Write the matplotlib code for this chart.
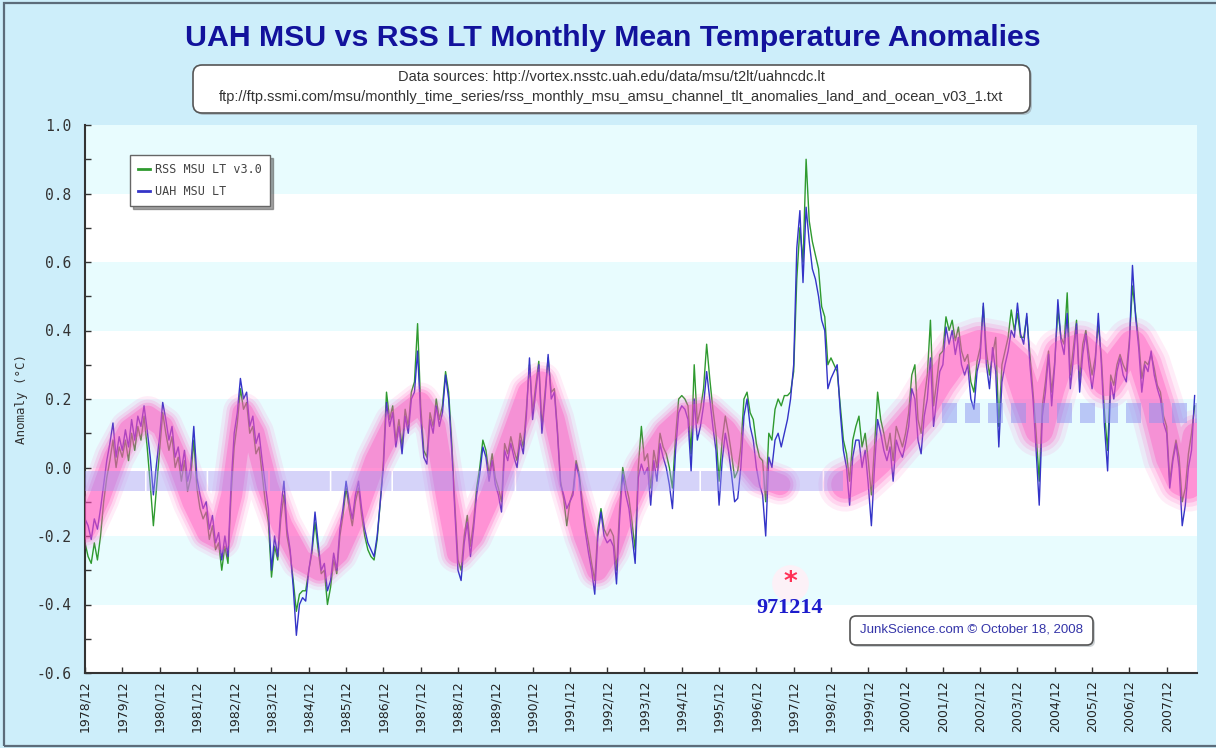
import numpy as np
import matplotlib
matplotlib.use("Agg")
import matplotlib.pyplot as plt
from matplotlib.patches import FancyBboxPatch, Rectangle

plt.rcParams["axes.unicode_minus"] = False

# monthly anomalies (deg C), 1978/12 .. 2008/09
uah = [
    -0.15,                                                                          # 1978 Dec
    -0.17, -0.21, -0.15, -0.18, -0.12, -0.05, 0.02, 0.07, 0.13, 0.03, 0.09, 0.05,   # 1979
    0.11, 0.06, 0.14, 0.08, 0.15, 0.12, 0.18, 0.11, 0.03, -0.08, 0.01, 0.09,        # 1980
    0.19, 0.14, 0.08, 0.12, 0.03, 0.06, -0.01, 0.05, -0.04, 0.00, 0.12, -0.03,      # 1981
    -0.08, -0.12, -0.10, -0.18, -0.14, -0.22, -0.19, -0.27, -0.20, -0.26, -0.05, 0.10,  # 1982
    0.16, 0.26, 0.20, 0.22, 0.12, 0.15, 0.07, 0.10, 0.02, -0.05, -0.12, -0.30,      # 1983
    -0.20, -0.26, -0.12, -0.04, -0.18, -0.24, -0.35, -0.49, -0.40, -0.38, -0.39, -0.30,  # 1984
    -0.24, -0.13, -0.22, -0.30, -0.28, -0.36, -0.33, -0.25, -0.30, -0.18, -0.12, -0.04,  # 1985
    -0.10, -0.15, -0.08, -0.04, -0.12, -0.18, -0.22, -0.24, -0.26, -0.20, -0.10, 0.00,   # 1986
    0.19, 0.12, 0.16, 0.06, 0.12, 0.04, 0.15, 0.10, 0.20, 0.22, 0.34, 0.15,         # 1987
    0.03, 0.01, 0.14, 0.10, 0.18, 0.12, 0.16, 0.27, 0.20, 0.05, -0.13, -0.30,       # 1988
    -0.33, -0.22, -0.16, -0.26, -0.18, -0.08, -0.02, 0.06, 0.03, -0.04, 0.02, -0.05,  # 1989
    -0.08, -0.13, 0.05, 0.02, 0.07, 0.03, 0.00, 0.08, 0.04, 0.15, 0.32, 0.14,       # 1990
    0.22, 0.30, 0.10, 0.20, 0.33, 0.20, 0.22, 0.10, -0.05, -0.08, -0.12, -0.10,     # 1991
    -0.08, 0.01, -0.03, -0.12, -0.19, -0.25, -0.30, -0.37, -0.20, -0.13, -0.20, -0.22,  # 1992
    -0.21, -0.23, -0.34, -0.15, -0.02, -0.08, -0.12, -0.20, -0.28, -0.03, 0.01, -0.02,  # 1993
    0.00, -0.11, 0.02, -0.04, 0.07, 0.03, 0.00, -0.05, -0.12, 0.05, 0.16, 0.18,     # 1994
    0.17, 0.14, -0.01, 0.20, 0.08, 0.12, 0.18, 0.28, 0.20, 0.12, 0.05, -0.11,       # 1995
    0.02, 0.10, 0.05, -0.02, -0.10, -0.09, 0.00, 0.15, 0.20, 0.12, 0.08, 0.00,      # 1996
    -0.05, -0.08, -0.20, 0.03, 0.00, 0.08, 0.10, 0.06, 0.10, 0.14, 0.20, 0.30,      # 1997
    0.64, 0.75, 0.54, 0.76, 0.66, 0.58, 0.55, 0.50, 0.43, 0.40, 0.23, 0.26,         # 1998
    0.28, 0.30, 0.16, 0.05, 0.00, -0.11, 0.03, 0.08, 0.08, 0.00, 0.05, -0.05,       # 1999
    -0.17, 0.00, 0.14, 0.10, 0.05, 0.02, 0.06, -0.04, 0.08, 0.05, 0.03, 0.07,       # 2000
    0.12, 0.23, 0.20, 0.08, 0.04, 0.15, 0.20, 0.32, 0.12, 0.20, 0.28, 0.30,         # 2001
    0.41, 0.36, 0.40, 0.33, 0.38, 0.30, 0.27, 0.30, 0.20, 0.17, 0.28, 0.32,         # 2002
    0.48, 0.30, 0.23, 0.35, 0.28, 0.06, 0.25, 0.30, 0.34, 0.40, 0.38, 0.48,         # 2003
    0.39, 0.36, 0.45, 0.30, 0.20, 0.05, -0.11, 0.15, 0.22, 0.33, 0.18, 0.30,        # 2004
    0.49, 0.37, 0.33, 0.45, 0.23, 0.32, 0.42, 0.22, 0.33, 0.39, 0.30, 0.23,         # 2005
    0.30, 0.45, 0.30, 0.12, -0.01, 0.25, 0.20, 0.28, 0.32, 0.27, 0.25, 0.36,        # 2006
    0.59, 0.44, 0.35, 0.22, 0.30, 0.28, 0.34, 0.27, 0.23, 0.20, 0.13, 0.10,         # 2007
    -0.06, 0.02, 0.07, 0.00, -0.17, -0.11, 0.00, 0.05, 0.21,                        # 2008 Jan-Sep
]

rss = [
    -0.22,                                                                          # 1978 Dec
    -0.26, -0.28, -0.22, -0.27, -0.20, -0.10, -0.03, 0.02, 0.08, 0.00, 0.06, 0.03,  # 1979
    0.08, 0.02, 0.10, 0.05, 0.12, 0.08, 0.15, 0.06, -0.05, -0.17, -0.06, 0.05,      # 1980
    0.16, 0.10, 0.05, 0.09, 0.00, 0.03, -0.04, 0.02, -0.07, -0.03, 0.08, -0.06,     # 1981
    -0.12, -0.15, -0.13, -0.21, -0.17, -0.24, -0.22, -0.30, -0.23, -0.28, -0.08, 0.06,  # 1982
    0.13, 0.23, 0.17, 0.19, 0.10, 0.12, 0.04, 0.06, -0.02, -0.10, -0.16, -0.32,     # 1983
    -0.23, -0.27, -0.15, -0.08, -0.20, -0.25, -0.33, -0.42, -0.37, -0.36, -0.36, -0.30,  # 1984
    -0.25, -0.16, -0.24, -0.31, -0.30, -0.40, -0.35, -0.27, -0.31, -0.20, -0.14, -0.06,  # 1985
    -0.12, -0.17, -0.10, -0.06, -0.14, -0.20, -0.24, -0.26, -0.27, -0.21, -0.10, 0.02,   # 1986
    0.22, 0.14, 0.18, 0.08, 0.14, 0.06, 0.17, 0.12, 0.22, 0.25, 0.42, 0.18,         # 1987
    0.05, 0.03, 0.16, 0.12, 0.20, 0.14, 0.18, 0.28, 0.22, 0.07, -0.11, -0.27,       # 1988
    -0.30, -0.20, -0.14, -0.23, -0.16, -0.06, 0.00, 0.08, 0.05, -0.02, 0.04, -0.03,  # 1989
    -0.06, -0.10, 0.07, 0.04, 0.09, 0.05, 0.02, 0.10, 0.06, 0.17, 0.30, 0.16,       # 1990
    0.24, 0.31, 0.12, 0.22, 0.32, 0.22, 0.23, 0.11, -0.04, -0.09, -0.17, -0.10,     # 1991
    -0.07, 0.02, -0.02, -0.10, -0.17, -0.22, -0.28, -0.33, -0.18, -0.12, -0.18, -0.20,  # 1992
    -0.18, -0.20, -0.30, -0.12, 0.00, -0.05, -0.09, -0.16, -0.24, 0.00, 0.12, 0.02,  # 1993
    0.04, -0.06, 0.05, 0.00, 0.10, 0.06, 0.04, 0.00, -0.06, 0.09, 0.20, 0.21,       # 1994
    0.20, 0.18, 0.04, 0.30, 0.13, 0.17, 0.23, 0.36, 0.26, 0.17, 0.10, -0.04,        # 1995
    0.08, 0.15, 0.10, 0.04, -0.03, -0.01, 0.06, 0.20, 0.22, 0.16, 0.14, 0.07,       # 1996
    0.03, 0.02, -0.10, 0.10, 0.08, 0.17, 0.20, 0.18, 0.21, 0.21, 0.22, 0.28,        # 1997
    0.55, 0.70, 0.60, 0.90, 0.72, 0.66, 0.62, 0.58, 0.47, 0.44, 0.30, 0.32,         # 1998
    0.30, 0.28, 0.18, 0.08, 0.04, -0.04, 0.08, 0.12, 0.15, 0.06, 0.10, 0.02,        # 1999
    -0.08, 0.06, 0.22, 0.14, 0.10, 0.05, 0.10, 0.02, 0.12, 0.09, 0.06, 0.10,        # 2000
    0.16, 0.27, 0.30, 0.14, 0.10, 0.20, 0.27, 0.43, 0.18, 0.25, 0.33, 0.34,         # 2001
    0.44, 0.40, 0.43, 0.37, 0.41, 0.34, 0.31, 0.33, 0.25, 0.22, 0.31, 0.35,         # 2002
    0.47, 0.34, 0.27, 0.33, 0.38, 0.12, 0.30, 0.34, 0.38, 0.46, 0.40, 0.45,         # 2003
    0.38, 0.38, 0.44, 0.33, 0.22, 0.10, -0.04, 0.18, 0.25, 0.34, 0.22, 0.31,        # 2004
    0.46, 0.38, 0.36, 0.51, 0.27, 0.35, 0.43, 0.25, 0.36, 0.40, 0.33, 0.27,         # 2005
    0.32, 0.42, 0.32, 0.16, 0.05, 0.27, 0.24, 0.30, 0.33, 0.30, 0.28, 0.37,         # 2006
    0.53, 0.45, 0.37, 0.26, 0.31, 0.30, 0.33, 0.29, 0.24, 0.22, 0.15, 0.12,         # 2007
    -0.04, 0.03, 0.08, 0.03, -0.10, -0.06, 0.04, 0.10, 0.18,                        # 2008 Jan-Sep
]

# hand-drawn pink "cycle" stroke, two pieces (decimal year, anomaly)
pink_a_t = [1978.92, 1979.3, 1979.7, 1980.1, 1980.6, 1981.0, 1981.4, 1981.8, 1982.2, 1982.55,
            1982.85, 1983.15, 1983.45, 1983.8, 1984.2, 1984.7, 1985.2, 1985.7, 1986.2, 1986.7,
            1987.2, 1987.9, 1988.3, 1988.6, 1988.9, 1989.3, 1989.8, 1990.3, 1990.8, 1991.15,
            1991.5, 1991.9, 1992.3, 1992.65, 1993.0, 1993.4, 1993.9, 1994.5, 1995.0, 1995.6,
            1996.1, 1996.6, 1997.05, 1997.55]
pink_a_v = [-0.18, -0.09, 0.03, 0.11, 0.15, 0.12, 0.02, -0.10, -0.19, -0.21,
            -0.08, 0.16, 0.10, -0.05, -0.17, -0.27, -0.30, -0.25, -0.13, 0.02,
            0.13, 0.19, 0.12, -0.08, -0.25, -0.20, -0.08, 0.07, 0.22, 0.25,
            0.14, -0.05, -0.20, -0.30, -0.24, -0.12, 0.00, 0.10, 0.15, 0.16,
            0.11, 0.03, -0.03, -0.05]
pink_b_t = [1999.3, 1999.7, 2000.2, 2000.75, 2001.3, 2001.8, 2002.4, 2002.9, 2003.4, 2003.9,
            2004.2, 2004.5, 2004.8, 2005.1, 2005.6, 2006.0, 2006.3, 2006.65, 2007.0, 2007.3,
            2007.65, 2008.0, 2008.3, 2008.5, 2008.72]
pink_b_v = [-0.05, -0.03, 0.02, 0.09, 0.16, 0.25, 0.34, 0.36, 0.35, 0.30,
            0.20, 0.11, 0.23, 0.33, 0.35, 0.31, 0.25, 0.31, 0.36, 0.30,
            0.18, 0.03, -0.04, -0.05, 0.09]

# lavender baseline strokes
base_a_t, base_a_v = [1978.92, 1999.25], [-0.04, -0.04]
base_b_t, base_b_v = [2001.9, 2008.73], [0.16, 0.16]

first_year = 1978
tick_years = list(range(1978, 2008))
tick_labels = ["%d/12" % y for y in tick_years]
y_ticks = [-0.6, -0.4, -0.2, 0.0, 0.2, 0.4, 0.6, 0.8, 1.0]
y_labels = ["-0.6", "-0.4", "-0.2", "0.0", "0.2", "0.4", "0.6", "0.8", "1.0"]

W, H = 1216, 748
BG = "#cdeefa"
PX = 0.72  # points per pixel at 100 dpi

fig = plt.figure(figsize=(W / 100, H / 100), dpi=100, facecolor=BG)
fig.patches.append(Rectangle((4 / W, 2 / H), 1.0, (H - 5) / H, transform=fig.transFigure,
                             fill=False, edgecolor="#5c6c7a", lw=1.6, zorder=0))

ax = fig.add_axes([85 / W, 75 / H, 1112 / W, 548 / H])
ax.set_facecolor("white")
for lo in (0.8, 0.4, 0.0, -0.4):
    ax.axhspan(lo, lo + 0.2, color="#e8fcfe", lw=0, zorder=0)

months = first_year + 11 / 12 + np.arange(len(uah)) / 12
l_rss, = ax.plot(months, rss, color="#2f9a2f", lw=1.0, zorder=2, label="RSS MSU LT v3.0")
l_uah, = ax.plot(months, uah, color="#3434c8", lw=1.0, zorder=2.1, label="UAH MSU LT")

# pink glowing stroke (layered widths); the later piece is drawn broader
for (t, v), k in (((pink_a_t, pink_a_v), 1.0), ((pink_b_t, pink_b_v), 1.35)):
    for w, a in ((40, 0.10), (33, 0.15), (27, 0.24), (21, 0.34)):
        ax.plot(t, v, color="#ff50bc", lw=w * k * PX, alpha=a, solid_capstyle="round",
                solid_joinstyle="round", zorder=3)

# lavender dashed baselines
ax.plot(base_a_t, base_a_v, color="#9c98f2", lw=20 * PX, alpha=0.42, zorder=4,
        dashes=(3.0, 0.08), dash_capstyle="butt")
ax.plot(base_b_t, base_b_v, color="#8c94f0", lw=20 * PX, alpha=0.5, zorder=4,
        dashes=(0.75, 0.4), dash_capstyle="butt")

ax.set_xlim(first_year + 11 / 12, 2008.73)
ax.set_ylim(-0.6, 1.0)
ax.set_xticks([y + 11 / 12 for y in tick_years])
ax.set_xticklabels(tick_labels, rotation=90, fontsize=9, color="#222222")
ax.set_yticks(y_ticks)
ax.set_yticklabels(y_labels, family="DejaVu Sans Mono", fontsize=10.5, color="#333333")
ax.set_yticks(np.arange(-0.5, 1.0, 0.2), minor=True)
ax.tick_params(axis="both", which="both", direction="in", length=4, width=1, color="#333333")
ax.tick_params(axis="y", pad=10)
ax.tick_params(axis="x", pad=5)
for s in ("top", "right"):
    ax.spines[s].set_visible(False)
for s in ("left", "bottom"):
    ax.spines[s].set_color("#333333")
    ax.spines[s].set_linewidth(1.5)
ax.set_ylabel("Anomaly (\u00b0C)", family="DejaVu Sans Mono", fontsize=9, color="#333333",
              labelpad=6)

leg = ax.legend(handles=[l_rss, l_uah], loc="upper left", bbox_to_anchor=(0.0405, 0.945),
                prop=dict(family="DejaVu Sans Mono", size=8.5), frameon=True, fancybox=False,
                shadow=True, edgecolor="#666666", handlelength=1.0, handletextpad=0.4,
                borderpad=0.7, labelspacing=0.7, borderaxespad=0)
for ln in leg.get_lines():
    ln.set_linewidth(2)
for tx in leg.get_texts():
    tx.set_color("#444444")
leg.set_zorder(10)

# marker + label near 1997/12
ax.scatter([1997.82], [-0.336], s=700, color="#fff0f7", alpha=0.9, lw=0, zorder=5)
ax.text(1997.82, -0.336, "*", color="#ff3055", fontsize=19, fontweight="bold",
        ha="center", va="center", zorder=6)
ax.text(1997.82, -0.41, "971214", color="#1c1ccc", fontsize=16, fontweight="bold",
        family="Liberation Serif", ha="center", va="center", zorder=6)

# title and source box
fig.text(613 / W, 1 - 38 / H, "UAH MSU vs RSS LT Monthly Mean Temperature Anomalies",
         ha="center", va="center", fontsize=21.8, fontweight="bold", color="#12129c",
         family="Liberation Sans")
ins = fig.dpi_scale_trans
fig.patches.append(FancyBboxPatch((1.95, (H - 115) / 100), 8.37, 0.48,
                                  boxstyle="round,pad=0,rounding_size=0.09", transform=ins,
                                  facecolor="#9aa4aa", edgecolor="none", alpha=0.6))
fig.patches.append(FancyBboxPatch((1.93, (H - 113) / 100), 8.37, 0.48,
                                  boxstyle="round,pad=0,rounding_size=0.09", transform=ins,
                                  facecolor="white", edgecolor="#555555", lw=1.2))
fig.text(611 / W, 1 - 77 / H, "Data sources: http://vortex.nsstc.uah.edu/data/msu/t2lt/uahncdc.lt",
         ha="center", va="center", fontsize=10.5, color="#333333", family="Liberation Sans")
fig.text(611 / W, 1 - 97 / H,
         "ftp://ftp.ssmi.com/msu/monthly_time_series/rss_monthly_msu_amsu_channel_tlt_anomalies_land_and_ocean_v03_1.txt",
         ha="center", va="center", fontsize=10.5, color="#333333", family="Liberation Sans")

# credit box
fig.patches.append(FancyBboxPatch((8.52, (H - 647) / 100), 2.43, 0.29,
                                  boxstyle="round,pad=0,rounding_size=0.06", transform=ins,
                                  facecolor="#9aa4aa", edgecolor="none", alpha=0.5, zorder=8))
fig.patches.append(FancyBboxPatch((8.50, (H - 645) / 100), 2.43, 0.29,
                                  boxstyle="round,pad=0,rounding_size=0.06", transform=ins,
                                  facecolor="white", edgecolor="#555555", lw=1.2, zorder=8))
fig.text(971 / W, 1 - 630 / H, "JunkScience.com \u00a9 October 18, 2008", ha="center", va="center",
         fontsize=9.5, color="#3434a8", family="Liberation Sans", zorder=9)

fig.savefig("out.png", dpi=100, facecolor=BG)
